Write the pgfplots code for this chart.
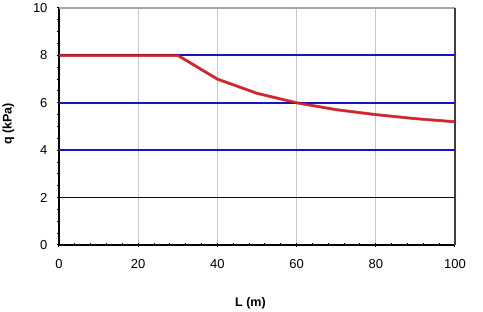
\documentclass[border=0pt]{standalone}
\usepackage{pgfplots}
\pgfplotsset{compat=1.18}
\usepackage{fontspec}
\setmainfont{Liberation Sans}
\definecolor{gblue}{RGB}{20,20,200}
\definecolor{gred}{RGB}{220,30,40}
\definecolor{ggrid}{RGB}{200,200,210}
\begin{document}
\begin{tikzpicture}[x=1pt,y=1pt]
\useasboundingbox (0,0) rectangle (483,312);
\begin{axis}[
  at={(59pt,67pt)}, anchor=south west,
  scale only axis, width=396pt, height=237pt,
  xmin=0, xmax=100, ymin=0, ymax=10,
  xtick={0,20,...,100}, ytick={0,2,...,10},
  minor x tick num=4, minor y tick num=3,
  tick align=outside,
  major tick length=4pt, minor tick length=3pt,
  every tick/.style={black, line width=1pt},
  axis lines=left,
  axis line style={-, black, line width=1.2pt},
  y axis line style={line width=2pt},
  x grid style={ggrid, line width=0.8pt},
  xmajorgrids,
  ticklabel style={font=\fontsize{13}{15}\selectfont},
  /pgf/number format/assume math mode=true,
  xlabel={\textbf{L (m)}},
  ylabel={\textbf{q (kPa)}},
  label style={font=\fontsize{12.5}{14}\selectfont},
  xlabel style={at={(axis description cs:0.4836,-0.2447)}, anchor=center},
  ylabel style={at={(axis description cs:-0.128,0.51)}, anchor=center},
  xticklabel style={yshift=-9pt},
  yticklabel style={xshift=-6pt},
  clip=false,
]
\draw[gray!70, line width=1.2pt] (rel axis cs:0,1) -- (rel axis cs:1,1);
\draw[black!75, line width=1.2pt] (rel axis cs:1,0) -- (rel axis cs:1,1);
\addplot[color=black!70!blue, line width=0.9pt] coordinates {(0,2) (100,2)};
\addplot[gblue, line width=1.8pt] coordinates {(0,4) (100,4)};
\addplot[gblue, line width=1.8pt] coordinates {(0,6) (100,6)};
\addplot[gblue, line width=1.8pt] coordinates {(0,8) (100,8)};
\addplot[color=red!50!black, line width=3pt, opacity=0.6] coordinates {
 (0,8) (30,8) (40,7.0) (50,6.4) (60,6.0) (70,5.71) (80,5.5) (90,5.33) (100,5.2)};
\addplot[gred, line width=2pt] coordinates {
 (0,8) (30,8) (40,7.0) (50,6.4) (60,6.0) (70,5.71) (80,5.5) (90,5.33) (100,5.2)};
\end{axis}
\end{tikzpicture}
\end{document}
